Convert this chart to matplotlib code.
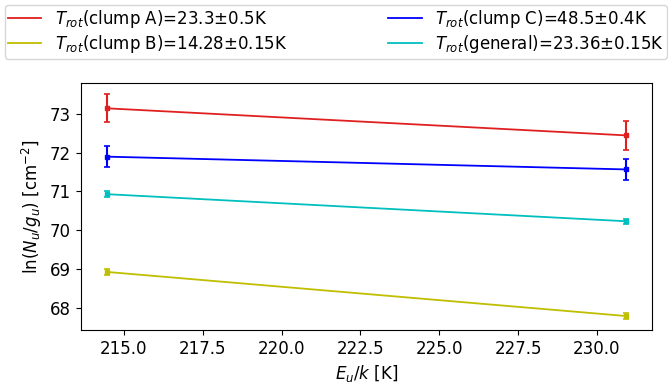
import matplotlib
matplotlib.use("Agg")
import matplotlib.pyplot as plt

x_eu = [214.46, 230.92]
clumpA = [73.15, 72.45]
clumpA_err = [0.36, 0.37]
clumpB = [68.92, 67.78]
clumpB_err = [0.08, 0.07]
clumpC = [71.90, 71.57]
clumpC_err = [0.27, 0.27]
general = [70.93, 70.23]
general_err = [0.08, 0.07]

labels = [r"$T_{rot}$(clump A)=23.3±0.5K",
          r"$T_{rot}$(clump B)=14.28±0.15K",
          r"$T_{rot}$(clump C)=48.5±0.4K",
          r"$T_{rot}$(general)=23.36±0.15K"]
series = [(clumpA, clumpA_err, "#e02020"),
          (clumpB, clumpB_err, "y"),
          (clumpC, clumpC_err, "b"),
          (general, general_err, "c")]

fig = plt.figure(figsize=(6.68, 3.85), dpi=100)
ax = fig.add_axes([0.121, 0.143, 0.855, 0.641])
handles = []
for (vals, errs, col), lab in zip(series, labels):
    ax.errorbar(x_eu, vals, yerr=errs, fmt='s', color=col, markersize=3,
                capsize=2.5, elinewidth=1.5, capthick=1.2)
    h, = ax.plot(x_eu, vals, '-', color=col, lw=1.3, label=lab)
    handles.append(h)

ax.set_xlabel(r"$E_u/k$ [K]", fontsize=12)
ax.set_ylabel(r"ln($N_u/g_u$) [cm$^{-2}$]", fontsize=12)
ax.tick_params(labelsize=12)

fig.legend(handles=handles, labels=labels, loc="upper left", ncol=2, mode="expand",
           bbox_to_anchor=(0.007, 0.988, 0.992, 0), fontsize=12, handlelength=2,
           labelspacing=0.2, borderpad=0.2, borderaxespad=0.0)

fig.savefig("out.png", dpi=100)
